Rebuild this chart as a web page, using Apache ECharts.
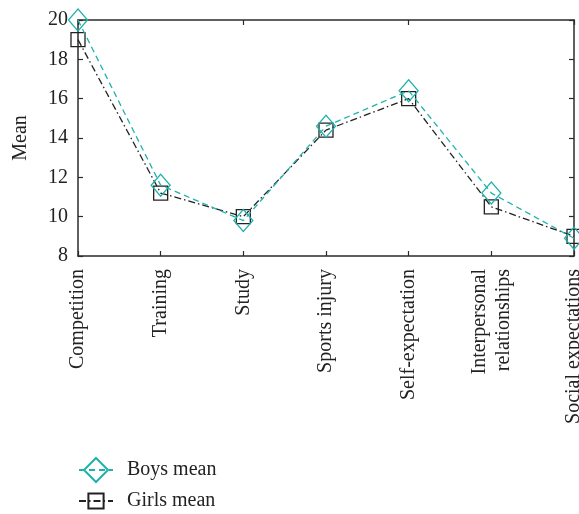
<!DOCTYPE html>
<html>
<head>
<meta charset="utf-8">
<script src="https://cdn.jsdelivr.net/npm/echarts@6/dist/echarts.min.js"></script>
<style>
  html, body { margin: 0; padding: 0; background: #fff; }
  #chart { width: 579px; height: 514px; }
</style>
</head>
<body>
<div id="chart"></div>
<script>
// Stress-source categories and mean scores by gender
const categories = [
  'Competition', 'Training', 'Study', 'Sports injury',
  'Self-expectation', 'Interpersonal\nrelationships', 'Social expectations'
];
const boysMean  = [20.0, 11.6, 9.8, 14.6, 16.4, 11.2, 8.9];
const girlsMean = [19.0, 11.2, 10.0, 14.4, 16.0, 10.5, 9.0];
const yTicks = { min: 8, max: 20, interval: 2 };

const FONT = 'Liberation Serif';
const AXIS_COLOR = '#2b2b2b';
const BOYS_COLOR = '#1fb2ab';
const GIRLS_COLOR = '#222222';

const chart = echarts.init(document.getElementById('chart'));

const frameAxis = {
  axisLine: { show: true, lineStyle: { color: AXIS_COLOR, width: 1.5 } },
  axisTick: { show: true, inside: true, length: 5, lineStyle: { color: AXIS_COLOR, width: 1.2 } },
  splitLine: { show: false }
};

const legendBase = {
  orient: 'vertical',
  left: 78,
  padding: 0,
  itemWidth: 34,
  textStyle: { fontFamily: FONT, fontSize: 20, color: '#222', padding: [0, 0, 0, 9] }
};

chart.setOption({
  animation: false,
  grid: { left: 78, right: 5, top: 20, bottom: 258, containLabel: false, outerBoundsMode: 'none' },
  legend: [
    Object.assign({ top: 457, itemHeight: 30, data: ['Boys mean'] }, legendBase),
    Object.assign({ top: 491, itemHeight: 19, data: ['Girls mean'] }, legendBase)
  ],
  xAxis: [
    Object.assign({
      type: 'category',
      data: categories,
      boundaryGap: false,
      position: 'bottom',
      axisLabel: {
        rotate: 90,
        margin: 13,
        fontFamily: FONT,
        fontSize: 20,
        color: '#222',
        interval: 0,
        lineHeight: 24
      }
    }, frameAxis),
    Object.assign({
      type: 'category',
      data: categories,
      boundaryGap: false,
      position: 'top',
      axisLabel: { show: false }
    }, frameAxis)
  ],
  yAxis: [
    Object.assign({
      type: 'value',
      min: yTicks.min,
      max: yTicks.max,
      interval: yTicks.interval,
      position: 'left',
      name: 'Mean',
      nameLocation: 'middle',
      nameGap: 47,
      nameTextStyle: { fontFamily: FONT, fontSize: 20, color: '#222' },
      axisLabel: { fontFamily: FONT, fontSize: 20, color: '#222', margin: 10 }
    }, frameAxis),
    Object.assign({
      type: 'value',
      min: yTicks.min,
      max: yTicks.max,
      interval: yTicks.interval,
      position: 'right',
      axisLabel: { show: false }
    }, frameAxis)
  ],
  series: [
    {
      name: 'Boys mean',
      type: 'line',
      data: boysMean,
      symbol: 'diamond',
      symbolSize: [19, 22],
      z: 3,
      lineStyle: { color: BOYS_COLOR, width: 1.3, type: [6, 4] },
      itemStyle: { color: 'rgba(255,255,255,0)', borderColor: BOYS_COLOR, borderWidth: 1.3 }
    },
    {
      name: 'Girls mean',
      type: 'line',
      data: girlsMean,
      symbol: 'rect',
      symbolSize: 14,
      z: 2,
      lineStyle: { color: GIRLS_COLOR, width: 1.3, type: [7, 3, 1.5, 3] },
      itemStyle: { color: 'rgba(255,255,255,0)', borderColor: GIRLS_COLOR, borderWidth: 1.3 }
    }
  ]
});
</script>
</body>
</html>
